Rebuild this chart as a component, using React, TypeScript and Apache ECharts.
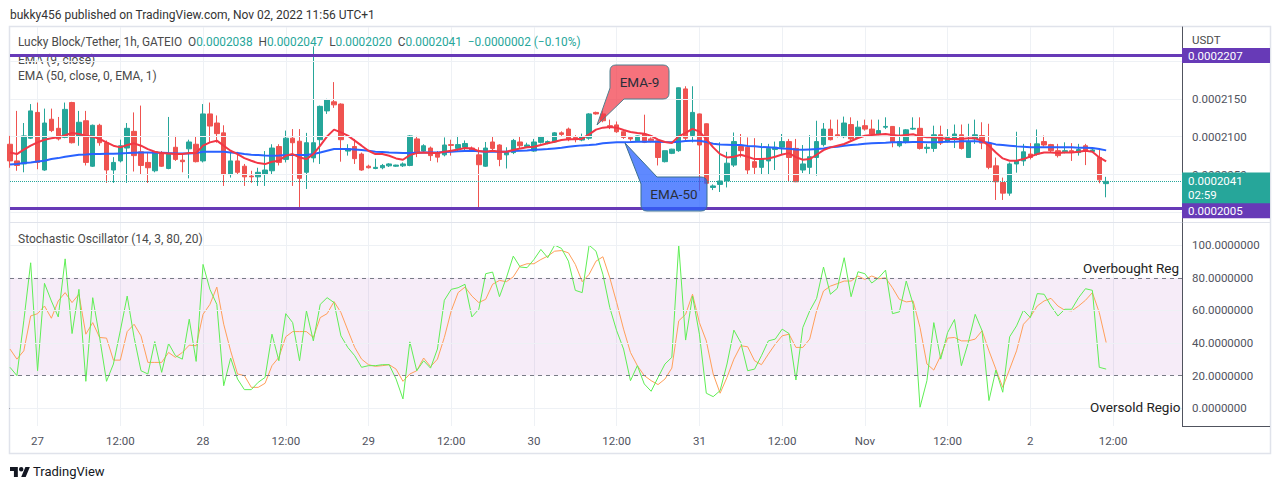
import React, { useEffect, useRef } from 'react';
import * as echarts from 'echarts';

// ---------- axis / categories ----------
const START_UTC = Date.UTC(2022, 9, 26, 20, 0); // first hourly bar: 26 Oct 20:00
const HOURS_SHOWN = 171; // bars + empty space to the right
const pad = (n: number) => String(n).padStart(2, '0');
const CATEGORIES: string[] = Array.from({ length: HOURS_SHOWN }, (_, i) => {
  const d = new Date(START_UTC + i * 3600e3);
  return `${pad(d.getUTCMonth() + 1)}-${pad(d.getUTCDate())} ${pad(d.getUTCHours())}:00`;
});
const DAY_LABELS: Record<string, string> = {
  '10-27': '27', '10-28': '28', '10-29': '29', '10-30': '30', '10-31': '31', '11-01': 'Nov', '11-02': '2',
};
const PRICE_GRID = [2000, 2050, 2100, 2150, 2200]; // in 1e-7 USDT
const PRICE_LABELS = [2050, 2100, 2150]; // 2000 / 2200 sit under the range labels
const STOCH_TICKS = [0, 20, 40, 60, 80, 100];
const RANGE_HIGH = 2207;
const RANGE_LOW = 2005;
const COUNTDOWN = '02:59';

// ---------- price data (units of 1e-7 USDT) ----------
const OPEN = [2090,2068,2064,2098,2132,2056,2123,2111,2099,2145,2101,2121,2061,2115,2092,2056,2068,2085,2107,2080,2066,2055,2079,2058,2086,2069,2084,2090,
2068,2130,2118,2105,2050,2068,2061,2048,2047,2050,2055,2087,2070,2098,2094,2053,2072,2096,2134,2146,2143,2081,2087,2077,2061,2058,
2059,2061.5,2061,2061.5,2062,2097,2081,2085,2079,2076,2089.5,2084.5,2086,2085,2076,2061,2093,2089,2076,2079,2093,2087,2081,2092.5,2091.5,2093,
2105,2110,2099,2095.5,2098,2132,2130,2114.5,2115.5,2106.5,2099,2094.5,2103.5,2097,2094.5,2067,2078,2081.5,2163,2101.5,2130,2117,2033,2037,2041.5,2062.5,2087,
2086,2067,2059.5,2068,2083,2086,2093.5,2084.5,2056,2059.5,2072.5,2089.5,2110,2102.5,2100,2116,2099,2114.5,2110,2103.5,2112.5,2113.5,2088,2092.5,2110,2111,
2084.5,2084.5,2102.5,2093.5,2097,2102.5,2072.5,2097,2101.5,2091.5,2061.5,2039.5,2025.5,2064,2068,2077,2077,2093.5,2089.5,2081.5,2080,2081.5,2079,2088,2080.5,2072.5,2038];
const HIGH = [2101,2134,2118,2143,2145,2137,2137,2126,2145,2146,2134,2134,2116,2117,2095,2073,2096,2118,2132,2141,2079,2081,2081,2126,2101,2076,2096,2100,
2143,2145,2128,2115,2079,2080,2064,2055,2059,2081,2090,2090,2108,2110,2110,2105,2219,2141,2150,2172,2144,2090,2097,2079,2063,2071,
2064,2065,2063,2066,2102,2101,2090,2087,2081,2099,2096,2101,2095,2087,2086,2093,2100,2090,2086,2097,2100,2092,2097,2101,2095,2106,
2107,2112,2102,2104,2131,2133,2134.5,2122.5,2120,2107,2101,2101.5,2129,2099,2095,2081.5,2084,2165,2166.5,2166.5,2130.5,2117.5,2037,2092.5,2080,2105.5,2103.5,
2099,2098,2091.5,2090.5,2093.5,2103.5,2097,2097,2089,2102,2121,2118,2122.5,2122.5,2126.5,2125.5,2121,2122.5,2122.5,2122.5,2125.5,2114,2112.5,2110,2125.5,2125.5,
2090.5,2114.5,2114.5,2110,2116,2116,2117,2122.5,2119,2117,2072.5,2046,2066,2106.5,2090.5,2091.5,2109.5,2101.5,2090.5,2090.5,2092.5,2091.5,2090.5,2090.5,2086,2083,2047];
const LOW = [2059,2055,2053,2097,2057,2055,2106,2095,2098,2091,2088,2062,2060,2088,2039,2039,2066,2039,2054,2050,2039,2053,2060,2057,2068,2053,2045,2066,
2066,2092,2092,2035,2046,2050,2035,2039,2035,2035,2050,2062,2066,2035,2005,2031,2066,2064,2130,2138,2067,2075,2064,2055,2058,2057,
2057,2060,2060,2060,2061,2073,2079,2068,2066,2074,2075,2081,2080,2080,2005,2060,2082,2061,2058,2077,2085,2086,2080,2091,2090,2092,
2101,2094,2092.5,2094,2096,2129,2119,2110,2105,2097,2094.5,2094,2091.5,2092.5,2062,2066,2077,2080,2095,2092.5,2028.5,2037,2029.5,2027,2033,2060,2072.5,
2050.5,2050.5,2050.5,2050.5,2056,2077,2041.5,2040,2052,2050.5,2048.5,2087,2095,2099,2098,2095,2098,2108,2100,2102,2110,2086,2086,2091,2109,2083,
2078,2080,2089,2092,2085,2083,2072,2090.5,2083.5,2057,2016.5,2016.5,2022,2052.5,2061.5,2070,2075,2087,2079,2072.5,2078,2068,2075,2062.5,2079,2038.5,2020];
const CLOSE = [2068,2062,2101,2134,2066,2118,2108,2097,2136,2092,2119,2066,2115,2092,2056,2066,2088,2111,2075,2062,2059,2080,2061,2077,2070,2067,2093,2067,
2130,2114,2104,2050,2068,2053,2047,2047,2053,2056,2085,2066,2098,2092,2045,2092,2092,2140,2149,2142,2096,2084,2071,2056,2059,2059.5,
2062,2064,2062.5,2064,2101,2079,2088,2075,2073,2089,2088.5,2089.5,2091,2081,2063,2085,2084.5,2070,2079,2095,2088,2089,2093,2099.5,2093.5,2105,
2103,2096,2097,2099.5,2130,2130,2121,2112.5,2106.5,2099,2097,2101,2092.5,2094.5,2072.5,2081.5,2083.5,2164.5,2098,2132,2089,2038.5,2035,2041.5,2065,2093.5,2081.5,
2056,2059.5,2070.5,2084.5,2086,2093.5,2072.5,2040.5,2064,2073.5,2093.5,2110,2096,2100.5,2118,2097,2112.5,2110,2103.5,2108,2113.5,2092.5,2093.5,2109,2111,2084.5,
2086,2102.5,2091.5,2099,2103.5,2084.5,2093.5,2102.5,2091.5,2059.5,2040.5,2025.5,2064,2068,2080,2072.5,2090.5,2089,2081.5,2075,2081.5,2080,2083,2081.5,2082.5,2043,2041];

const EMA9 = [2079.2,2077.0,2082.8,2088.1,2092.5,2096.0,2097.8,2099.1,2101.8,2104.9,2103.5,2101.3,2100.0,2096.9,2092.5,2088.1,2085.9,2089.0,2091.2,2088.1,2083.6,2080.1,2078.3,2077.9,2077.0,2077.0,2078.3,2078.3,
2088.1,2092.5,2094.7,2088.1,2081.4,2077.0,2071.7,2068.2,2065.1,2063.8,2066.9,2068.2,2074.8,2077.0,2072.6,2070.4,2077.0,2088.1,2100.4,2109.3,2105.7,2101.3,2094.7,2088.1,2081.4,2077.0,
2077.0,2074.8,2071.3,2069.5,2075.7,2078.3,2079.2,2078.3,2078.3,2080.1,2081.4,2083.2,2085.0,2084.5,2081.0,2080.1,2081.4,2080.1,2080.1,2082.3,2084.5,2085.9,2086.7,2089.0,2091.2,2093.4,
2095.6,2096.5,2096.5,2097.3,2103.1,2109.3,2111.9,2112.8,2111.9,2108.8,2106.2,2104.9,2104.0,2100.9,2096.0,2092.9,2091.6,2100.4,2104.9,2110.2,2106.6,2096.9,2085.9,2077.0,2072.6,2073.5,2076.1,
2073.5,2070.4,2070.4,2071.3,2073.5,2076.5,2078.3,2073.0,2069.5,2070.4,2076.1,2082.3,2085.9,2088.1,2090.3,2094.3,2098.2,2101.3,2102.2,2102.7,2103.5,2102.2,2101.3,2102.2,2103.1,2100.4,
2099.1,2099.1,2098.2,2096.9,2096.9,2096.9,2097.8,2097.8,2094.7,2088.1,2079.2,2071.3,2068.2,2068.2,2070.4,2073.9,2077.0,2079.2,2079.2,2078.3,2079.2,2079.2,2080.1,2081.4,2080.1,2072.6,2067.5];
const EMA50 = [2063.3,2063.8,2065.1,2066.0,2067.3,2068.2,2070.4,2071.7,2073.5,2074.8,2076.1,2076.5,2077.0,2077.0,2077.5,2077.5,2077.9,2078.3,2078.8,2079.2,2079.2,2078.8,2078.8,2078.3,2077.9,2077.9,2077.9,2078.3,
2080.1,2080.1,2080.1,2080.1,2079.2,2078.3,2077.0,2076.1,2075.7,2075.2,2074.8,2075.2,2075.7,2075.7,2075.7,2075.7,2077.0,2079.2,2081.4,2083.6,2083.6,2083.6,2083.2,2082.3,2081.4,2080.1,
2079.7,2079.2,2078.8,2078.3,2078.3,2078.8,2079.2,2079.2,2079.2,2079.7,2080.1,2080.6,2081.0,2081.4,2080.6,2080.1,2080.1,2080.1,2080.1,2081.0,2081.4,2081.9,2082.8,2083.2,2083.6,2084.5,
2085.4,2086.7,2087.6,2088.5,2089.0,2089.8,2091.2,2092.0,2092.5,2092.5,2092.9,2093.4,2093.4,2093.4,2093.4,2092.9,2092.5,2093.4,2094.3,2094.7,2094.7,2092.9,2090.7,2089.8,2089.4,2089.0,2089.0,
2087.6,2087.2,2086.3,2085.9,2085.4,2084.5,2084.1,2083.2,2082.8,2083.2,2083.6,2084.5,2085.9,2086.7,2088.1,2089.0,2089.8,2090.7,2091.2,2091.6,2092.0,2092.5,2092.5,2092.5,2092.9,2092.9,
2092.5,2092.5,2092.9,2093.4,2093.4,2093.8,2093.8,2093.8,2093.4,2092.0,2089.8,2089.0,2088.1,2087.2,2086.7,2085.9,2085.9,2085.9,2085.9,2085.9,2085.9,2085.9,2085.4,2085.4,2085.0,2083.6,2081.9];

// ---------- stochastic (14, 3) ----------
const STOCH_K = [25.1,20.0,53.6,89.2,23.0,76.6,65.8,56.0,91.6,45.8,72.9,16.5,67.8,43.4,16.5,27.1,47.5,68.8,43.4,23.0,21.0,40.9,22.0,39.7,32.2,30.1,54.6,28.7,
88.2,72.9,63.7,13.8,30.8,17.9,11.4,11.4,15.9,18.9,45.4,29.1,58.0,52.5,29.1,59.7,41.3,63.7,67.8,64.8,44.4,37.3,32.2,25.1,26.1,26.1,
26.7,26.7,17.9,5.7,40.7,23.0,29.1,24.6,36.3,66.2,72.9,73.9,76.0,56.0,60.7,82.5,83.5,68.4,80.0,93.3,86.6,86.2,91.2,97.4,92.3,100,
98.0,90.2,72.3,70.9,100,96.3,82.1,61.7,47.5,36.3,16.9,26.1,14.9,10.4,18.9,27.1,31.2,100,41.8,68.8,45.4,9.2,7.1,10.8,27.1,47.9,40.3,
23.0,24.0,32.2,41.3,42.4,48.5,45.8,17.3,49.5,59.7,67.4,86.6,69.9,73.5,92.3,68.4,83.7,82.5,76.8,80.0,84.7,58.0,59.1,78.0,63.7,0.6,
16.9,52.5,30.1,46.4,54.4,26.1,40.3,57.6,47.5,4.7,23.4,9.8,43.8,50.5,60.1,55.6,70.3,69.9,62.7,56.6,60.7,60.7,67.8,73.3,72.3,25.1,24.0];
const STOCH_D = [36.3,30.1,35.2,56.6,58.0,62.7,55.2,65.8,70.9,64.8,69.9,45.4,52.5,43.4,43.0,29.5,29.5,47.0,51.5,44.4,28.1,28.1,28.1,34.2,31.2,34.2,38.7,38.3,
57.6,63.7,74.3,51.5,35.2,21.0,20.0,12.8,12.8,15.3,26.1,31.2,43.8,47.0,47.0,47.0,43.4,55.6,58.0,65.4,58.7,47.9,37.3,30.1,26.7,25.7,
26.1,26.7,24.0,16.5,21.0,23.0,30.8,25.5,30.1,43.4,59.7,70.9,74.3,68.8,64.8,66.8,76.0,78.4,77.6,80.6,87.2,88.6,88.6,91.2,93.3,96.3,
96.7,95.3,88.2,77.6,82.1,90.2,92.9,80.0,64.8,48.5,34.2,26.1,20.0,16.9,14.5,17.9,24.6,53.6,57.6,69.9,52.5,41.3,21.0,9.2,18.9,30.1,38.3,
37.7,29.1,26.7,33.2,39.3,44.4,45.4,37.3,37.3,42.4,59.7,71.9,74.9,76.4,78.0,78.0,81.1,79.0,81.1,79.4,80.0,73.9,66.8,65.2,65.8,49.5,
27.1,23.4,32.2,43.0,43.4,41.3,41.3,42.4,47.5,35.2,24.0,12.8,24.0,35.2,51.5,56.0,62.7,65.8,67.4,62.7,60.1,59.7,62.7,66.2,70.9,58.7,40.3];

// ---------- colours ----------
const UP = '#26a69a';
const DOWN = '#ef5350';
const FONT = 'Roboto';
const TEXT = '#4a4a4a';

const fmtP = (v: number) => (v / 1e7).toFixed(7);
const isTick = (v: string) => v.endsWith(' 00:00') || v.endsWith(' 12:00');
const tickText = (v: string) => (v.endsWith(' 12:00') ? '12:00' : DAY_LABELS[v.slice(0, 5)] || '');

// shapes
echarts.graphic.registerShape('ema9Callout', echarts.graphic.extendPath(
  'M616 65 L663 65 Q669 65 669 71 L669 93 Q669 99 663 99 L624 99 L597 125 L610 88 L610 71 Q610 65 616 65 Z', {}));
echarts.graphic.registerShape('ema50Callout', echarts.graphic.extendPath(
  'M657 177 L701 177 Q707 177 707 183 L707 205 Q707 211 701 211 L647 211 Q641 211 641 205 L641 184 L625 143 Z', {}));
echarts.graphic.registerShape('tvLogo', echarts.graphic.extendPath(
  'M14 22H7V11H0V4h14v18zM28 22h-8l7.5-18h8L28 22zM24 8a4 4 0 1 1-8 0a4 4 0 1 1 8 0z', {}));

export default function App() {
  const ref = useRef<HTMLDivElement>(null);
  useEffect(() => {
    if (!ref.current) return;
    const chart = echarts.init(ref.current, undefined, { renderer: 'svg' });
    const n = CLOSE.length;
    const last = n - 1;
    const candles = CLOSE.map((c, i) => [OPEN[i], c, LOW[i], HIGH[i]]);
    const chg = CLOSE[last] - CLOSE[last - 1];
    const pct = (chg / CLOSE[last - 1]) * 100;
    const sign = chg < 0 ? '\u2212' : '+';
    const legendText =
      `Lucky Block/Tether, 1h, GATEIO  O{v|${fmtP(OPEN[last])}}  H{v|${fmtP(HIGH[last])}}  L{v|${fmtP(LOW[last])}}  C{v|${fmtP(CLOSE[last])}}  {v|${sign}${fmtP(Math.abs(chg))} (${sign}${Math.abs(pct).toFixed(2)}%)}`;

    const gridLine = { color: '#eef1f5', width: 1, type: 'solid' as const };
    const xBase = {
      type: 'category' as const,
      data: CATEGORIES,
      boundaryGap: false,
      axisTick: { show: false },
      splitLine: { show: true, interval: (_i: number, v: string) => isTick(v), lineStyle: gridLine },
    };
    const textStyle = (size = 12) => ({ fontFamily: FONT, fontSize: size, fill: TEXT });

    chart.setOption({
      animation: false,
      backgroundColor: '#ffffff',
      grid: [
        { left: 10, right: 98, top: 27, height: 195 },
        { left: 10, right: 98, top: 223, height: 203 },
      ],
      xAxis: [
        { ...xBase, gridIndex: 0, axisLine: { show: false }, axisLabel: { show: false } },
        {
          ...xBase, gridIndex: 1,
          axisLine: { show: true, lineStyle: { color: '#50535e', width: 1 } },
          axisLabel: {
            show: true, interval: (_i: number, v: string) => isTick(v), formatter: tickText,
            color: '#50535e', fontFamily: FONT, fontSize: 11.5, margin: 9,
          },
        },
      ],
      yAxis: [
        {
          type: 'value', gridIndex: 0, position: 'right', min: 1987.4, max: 2244.7, scale: true,
          axisLine: { show: true, lineStyle: { color: '#50535e' } },
          axisTick: { show: false, customValues: PRICE_LABELS },
          axisLabel: { customValues: PRICE_LABELS, formatter: fmtP, color: '#50535e', fontFamily: FONT, fontSize: 11.5, margin: 10 },
          splitLine: { show: false },
        },
        {
          type: 'value', gridIndex: 1, position: 'right', min: -10.9, max: 113.6,
          axisLine: { show: true, lineStyle: { color: '#50535e' } },
          axisTick: { show: false, customValues: STOCH_TICKS },
          axisLabel: { customValues: STOCH_TICKS, formatter: (v: number) => v.toFixed(7), color: '#50535e', fontFamily: FONT, fontSize: 11.5, margin: 10 },
          splitLine: { show: false },
        },
      ],
      series: [
        {
          name: 'priceGrid', type: 'line', xAxisIndex: 0, yAxisIndex: 0, data: [], z: 1, silent: true,
          markLine: {
            silent: true, symbol: 'none', label: { show: false }, lineStyle: gridLine,
            data: PRICE_GRID.map((v) => ({ yAxis: v })),
          },
        },
        {
          name: 'stochGrid', type: 'line', xAxisIndex: 1, yAxisIndex: 1, data: [], z: 1, silent: true,
          markArea: { silent: true, itemStyle: { color: 'rgba(156,39,176,0.09)' }, data: [[{ yAxis: 20 }, { yAxis: 80 }]] },
          markLine: {
            silent: true, symbol: 'none', label: { show: false },
            data: [
              ...[0, 40, 60, 100].map((v) => ({ yAxis: v, lineStyle: gridLine })),
              ...[20, 80].map((v) => ({ yAxis: v, lineStyle: { color: '#787b86', width: 1, type: [4, 4] } })),
            ],
          },
        },
        {
          name: 'LUCKY/USDT', type: 'candlestick', xAxisIndex: 0, yAxisIndex: 0, data: candles, barWidth: 5,
          itemStyle: { color: UP, color0: DOWN, borderColor: UP, borderColor0: DOWN, borderWidth: 1 },
          markLine: {
            silent: true, symbol: 'none', animation: false,
            data: [
              {
                yAxis: RANGE_HIGH, lineStyle: { color: '#673ab7', width: 3, type: 'solid' },
                label: { show: true, position: 'end', distance: 0, formatter: fmtP(RANGE_HIGH), backgroundColor: '#673ab7', color: '#fff', fontFamily: FONT, fontSize: 11.5, padding: [1, 6], width: 76, lineHeight: 13 },
              },
              {
                yAxis: CLOSE[last], lineStyle: { color: UP, width: 1, type: 'dotted' },
                label: { show: true, position: 'end', distance: 0, formatter: `${fmtP(CLOSE[last])}\n${COUNTDOWN}`, backgroundColor: UP, color: '#fff', fontFamily: FONT, fontSize: 11.5, padding: [2, 6], width: 76, lineHeight: 14, offset: [0, 7] },
              },
              {
                yAxis: RANGE_LOW, lineStyle: { color: '#673ab7', width: 3, type: 'solid' },
                label: { show: true, position: 'end', distance: 0, formatter: fmtP(RANGE_LOW), backgroundColor: '#673ab7', color: '#fff', fontFamily: FONT, fontSize: 11.5, padding: [1, 6], width: 76, lineHeight: 13, offset: [0, 2] },
              },
            ],
          },
        },
        {
          name: 'EMA 50', type: 'line', xAxisIndex: 0, yAxisIndex: 0, data: EMA50, showSymbol: false, z: 3,
          lineStyle: { color: '#2962ff', width: 2 },
        },
        {
          name: 'EMA 9', type: 'line', xAxisIndex: 0, yAxisIndex: 0, data: EMA9, showSymbol: false, z: 4,
          lineStyle: { color: '#f23645', width: 2 },
        },
        {
          name: '%D', type: 'line', xAxisIndex: 1, yAxisIndex: 1, data: STOCH_D, showSymbol: false, z: 3,
          lineStyle: { color: '#ff9f5a', width: 1 },
        },
        {
          name: '%K', type: 'line', xAxisIndex: 1, yAxisIndex: 1, data: STOCH_K, showSymbol: false, z: 4,
          lineStyle: { color: '#5fee55', width: 1 },
        },
      ],
      graphic: [
        { type: 'rect', z: 0, shape: { x: 9.5, y: 26.5, width: 1261, height: 427 }, style: { fill: 'none', stroke: '#e0e3eb', lineWidth: 1.5 }, silent: true },
        { type: 'line', z: 0, shape: { x1: 10, y1: 222.5, x2: 1270, y2: 222.5 }, style: { stroke: '#e0e3eb', lineWidth: 1 }, silent: true },
        { type: 'line', z: 0, shape: { x1: 1182, y1: 426.5, x2: 1270, y2: 426.5 }, style: { stroke: '#50535e', lineWidth: 1 }, silent: true },
        { type: 'text', z: 100, x: 10, y: 15, style: { ...textStyle(12), fill: '#333', text: 'bukky456 published on TradingView.com, Nov 02, 2022 11:56 UTC+1', verticalAlign: 'middle' } },
        {
          type: 'text', z: 100, x: 18, y: 42,
          style: { ...textStyle(11.85), text: legendText, verticalAlign: 'middle', rich: { v: { fill: UP, fontFamily: FONT, fontSize: 11.85 } } },
        },
        { type: 'text', z: 0, x: 18, y: 60, style: { ...textStyle(12), text: 'EMA (9, close)', verticalAlign: 'middle' } },
        { type: 'text', z: 100, x: 18, y: 76, style: { ...textStyle(12), text: 'EMA (50, close, 0, EMA, 1)', verticalAlign: 'middle' } },
        { type: 'text', z: 100, x: 18, y: 239, style: { ...textStyle(12), text: 'Stochastic Oscillator (14, 3, 80, 20)', verticalAlign: 'middle' } },
        { type: 'text', z: 100, x: 1192, y: 40, style: { ...textStyle(11.5), text: 'USDT', verticalAlign: 'middle' } },
        { type: 'text', z: 100, x: 1083, y: 268, style: { fontFamily: FONT, fontSize: 13.5, fill: '#222', text: 'Overbought Region', verticalAlign: 'middle', width: 98, overflow: 'truncate', ellipsis: '' } },
        { type: 'text', z: 100, x: 1090, y: 407, style: { fontFamily: FONT, fontSize: 13.5, fill: '#222', text: 'Oversold Region', verticalAlign: 'middle', width: 96, overflow: 'truncate', ellipsis: '' } },
        { type: 'ema9Callout', z: 100, x: 0, y: 0, style: { fill: 'rgba(242,54,69,0.7)', stroke: '#4f7f8e', lineWidth: 1 } },
        { type: 'text', z: 101, x: 639.5, y: 82, style: { fontFamily: FONT, fontSize: 13.5, fill: '#2a2e39', text: 'EMA-9', align: 'center', verticalAlign: 'middle' } },
        { type: 'ema50Callout', z: 100, x: 0, y: 0, style: { fill: 'rgba(41,98,255,0.75)', stroke: '#3b6f8f', lineWidth: 1 } },
        { type: 'text', z: 101, x: 674, y: 194, style: { fontFamily: FONT, fontSize: 13.5, fill: '#2a2e39', text: 'EMA-50', align: 'center', verticalAlign: 'middle' } },
        { type: 'tvLogo', z: 100, x: 10, y: 464.8, scaleX: 0.56, scaleY: 0.56, style: { fill: '#131722' } },
        { type: 'text', z: 100, x: 33, y: 471.5, style: { fontFamily: FONT, fontSize: 13, fill: '#131722', text: 'TradingView', verticalAlign: 'middle' } },
      ],
    });
    return () => chart.dispose();
  }, []);
  return <div ref={ref} style={{ position: 'absolute', left: 0, top: 0, width: 1280, height: 489, background: '#fff' }} />;
}
